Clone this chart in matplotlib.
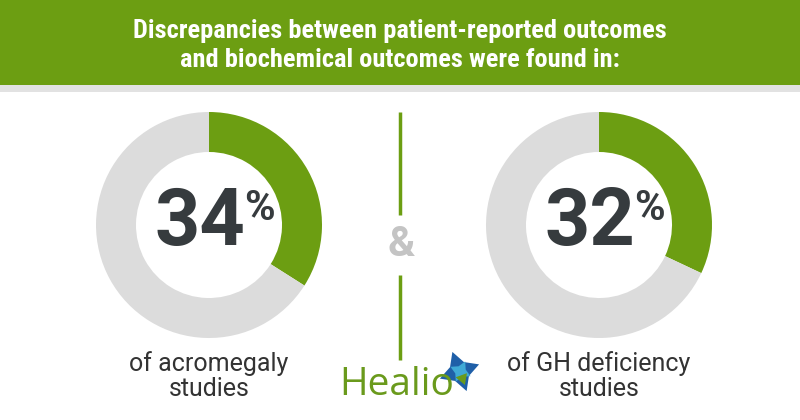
import matplotlib
matplotlib.use("Agg")
import matplotlib.pyplot as plt
from matplotlib.patches import Rectangle

# data
title_lines = ["Discrepancies between patient-reported outcomes",
               "and biochemical outcomes were found in:"]
shares = [34, 32]
captions = ["of acromegaly\nstudies", "of GH deficiency\nstudies"]

GREEN = "#6c9e12"
GRAY = "#dcdcdc"
DARK = "#363b3e"

W, H = 800, 420
fig = plt.figure(figsize=(W / 100, H / 100), dpi=100)
ax = fig.add_axes([0, 0, 1, 1])

centers = [209, 599]
for cx, share, cap in zip(centers, shares, captions):
    ax.pie([share, 100 - share], colors=[GREEN, GRAY], startangle=90,
           counterclock=False, center=(cx, H - 225), radius=113,
           wedgeprops=dict(width=40, linewidth=0))
    ax.text(cx - 9, H - 224, f"{share}", ha="center", va="center", color=DARK,
            fontsize=57, fontweight="bold", family="Roboto")
    ax.text(cx + 50, H - 208, "%", ha="center", va="center", color=DARK,
            fontsize=30, fontweight="bold", family="Roboto")
    ax.text(cx, H - 376, cap, ha="center", va="center", color="#333333",
            fontsize=18, family="Roboto", linespacing=1.05)

# pie() resets the limits, so set them afterwards
ax.set_xlim(0, W)
ax.set_ylim(0, H)
ax.set_aspect("equal")
ax.axis("off")

# header band
ax.add_patch(Rectangle((0, H - 85), W, 85, color=GREEN, lw=0))
ax.add_patch(Rectangle((0, H - 92), W, 7, color="#e2e2e2", lw=0))
for i, line in enumerate(title_lines):
    ax.text(W / 2, H - 31 - i * 29, line, ha="center", va="center", color="white",
            fontsize=19, fontweight="bold",
            family=["Roboto Condensed", "Roboto"])

# divider
ax.plot([400, 400], [H - 112, H - 215], color=GREEN, lw=2.5, solid_capstyle="butt")
ax.plot([400, 400], [H - 275, H - 360], color=GREEN, lw=2.5, solid_capstyle="butt")
ax.text(401, H - 245, "&", ha="center", va="center", color="#c4c4c4",
        fontsize=30, fontweight="bold", family="Roboto")

# logo
ax.text(339, H - 385, "Healio", ha="left", va="center", color="#6a9a1c",
        fontsize=28, family="Open Sans")
ax.plot([459], [H - 371], marker=(4, 1, 20), markersize=30, color="#1f5fa8", mew=0)
ax.plot([460], [H - 371], marker=(4, 1, 65), markersize=16, color="#3fa9d6", mew=0)
ax.plot([462], [H - 378], marker=(3, 1, 200), markersize=10, color="#6a9a1c", mew=0)

fig.savefig("out.png", dpi=100)
